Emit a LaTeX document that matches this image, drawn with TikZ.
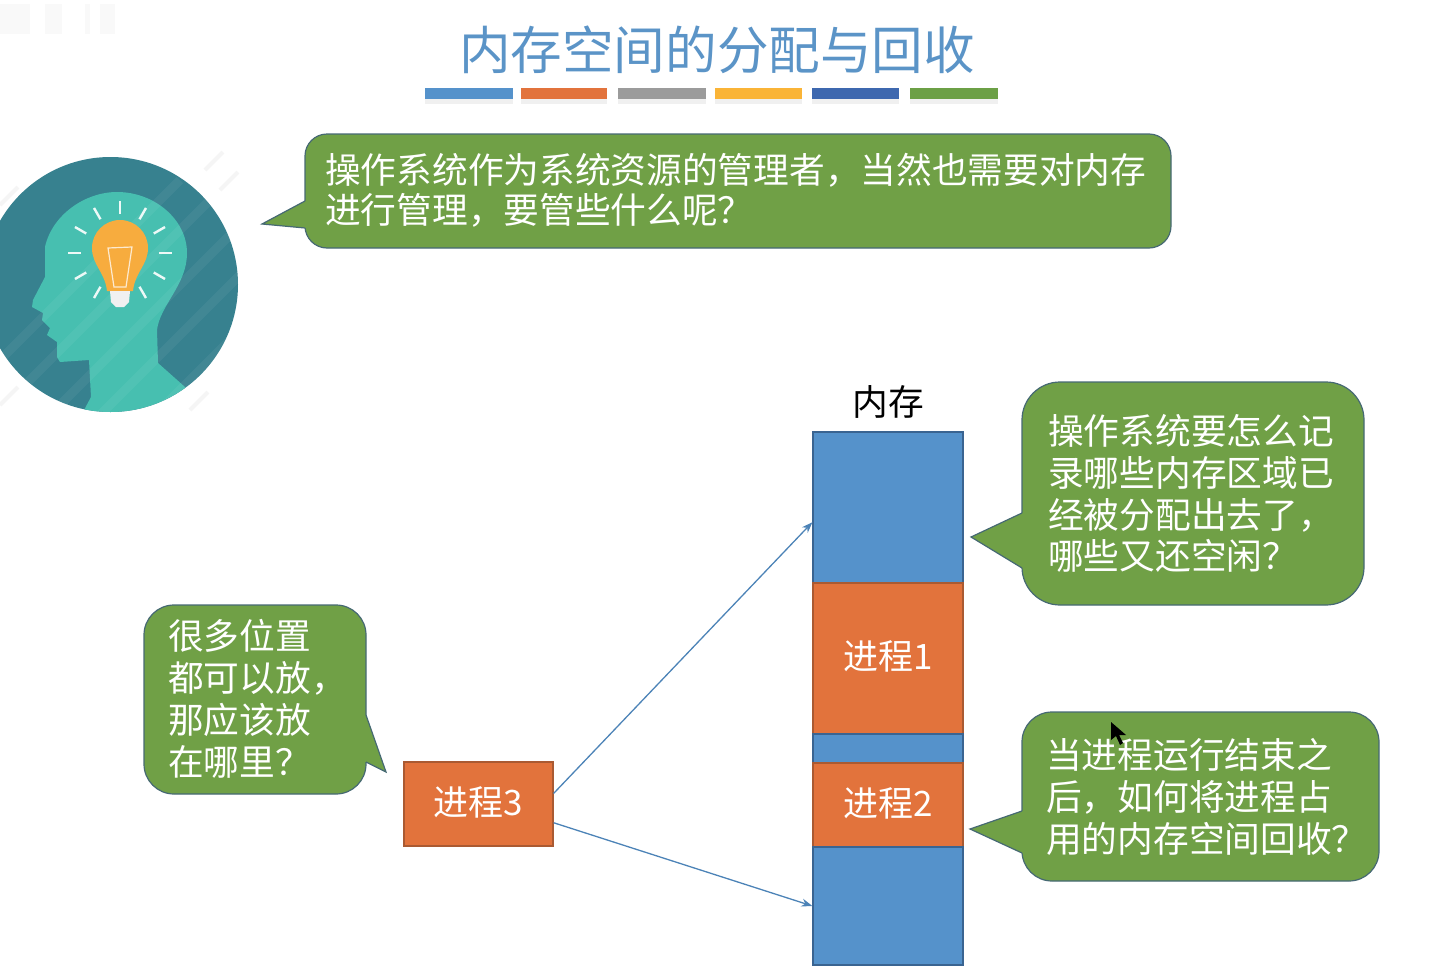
\documentclass[tikz,border=0pt]{standalone}
\usepackage{fontspec}
\setmainfont{Noto Sans CJK SC}
\usepackage{xcolor}
\usetikzlibrary{arrows.meta, positioning, calc}
\definecolor{cBlue}{RGB}{85,146,203}
\definecolor{cBlueEdge}{RGB}{58,100,145}
\definecolor{cOrange}{RGB}{226,115,60}
\definecolor{cOrangeEdge}{RGB}{170,90,50}
\definecolor{cGreen}{RGB}{112,160,70}
\definecolor{cGreenEdge}{RGB}{70,105,115}
\definecolor{cTitle}{RGB}{91,148,199}
\definecolor{cGray}{RGB}{155,155,155}
\definecolor{cAmber}{RGB}{250,180,55}
\definecolor{cNavy}{RGB}{62,104,175}
\definecolor{cLeaf}{RGB}{108,160,70}
\definecolor{cTeal}{RGB}{55,129,143}
\definecolor{cHead}{RGB}{71,191,176}
\definecolor{cBulb}{RGB}{247,172,62}
\tikzset{
	memfree/.style  ={rectangle, draw=cBlueEdge, line width=1.2pt, fill=cBlue, minimum width=150pt, inner sep=0pt},
	memproc/.style  ={rectangle, draw=cOrangeEdge, line width=1.2pt, fill=cOrange, minimum width=150pt, inner sep=0pt, text=white, text height=30pt, text depth=8pt, font=\fontsize{35}{42}\selectfont},
	bubble/.style   ={rectangle, draw=cGreenEdge, line width=1.2pt, fill=cGreen, inner sep=0pt},
	tailfill/.style ={fill=cGreen},
	tailline/.style ={draw=cGreenEdge, line width=1.2pt, line join=miter},
	saytext/.style  ={anchor=west, align=left, inner sep=0pt, text=white},
	sig/.style      ={-{Stealth[length=11pt, width=8pt]}, line width=1.3pt, draw=cBlue!90!black},
	ray/.style      ={white!90!cHead, line width=2.4pt},
}
\begin{document}
\begin{tikzpicture}[x=1pt, y=-1pt, font=\fontsize{35.7}{42}\selectfont]
	\useasboundingbox (0,0) rectangle (1433,972);
	% faint mark top left
	\foreach \xa/\xb in {0/30, 45/62, 85/90, 100/115} {
		\fill[gray!5] (\xa,4) rectangle (\xb,34);
	}
	% title
	\node[text=cTitle, font=\fontsize{51.6}{60}\selectfont, inner sep=0pt] (title) at (717,50) {内存空间的分配与回收};
	\foreach \xa/\xb/\col in {425/513/cBlue, 521/607/cOrange, 618/706/cGray, 715/802/cAmber, 812/899/cNavy, 910/998/cLeaf} {
		\fill[gray!12] (\xa,94) rectangle (\xb,104);
		\fill[\col] (\xa,88) rectangle (\xb,99);
	}
	% head with bulb
	\foreach \xa/\ya in {0/205, 205/170, 220/190, 0/405, 190/410} {
		\draw[gray!8, line width=4pt] (\xa,\ya) -- ++(18,-18);
	}
	\fill[cTeal] (110.5,284.5) circle (127.5);
	\begin{scope}
		\clip (110.5,284.5) circle (127.5);
		\fill[cHead] (83,412) -- (91,397) -- (89,360) -- (60,362) -- (57,357) -- (57,342) -- (47,335) -- (50,328) -- (42,320) -- (43,313) -- (32,307) -- (33,300) -- (45,277) -- (45,247)
			.. controls (52,215) and (85,192) .. (117,192) .. controls (155,192) and (187,220) .. (187,253)
			.. controls (187,285) and (160,305) .. (157,330) -- (158,363) -- (185,387) -- (200,430) -- (83,430) -- cycle;
		\foreach \xa in {-60,-10,45,95,150,205,260} {
			\draw[white, opacity=0.05, line width=9pt] (\xa,420) -- ++(240,-240);
		}
	\end{scope}
	\foreach \ang in {0,30,60,120,150,180,210,240,270,300,330} {
		\draw[ray] (120,253) ++(\ang:39) -- ++(\ang:13);
	}
	\fill[cBulb] (92,248) arc[start angle=180, end angle=360, radius=28] .. controls (148,265) and (135,272) .. (133,291) -- (107,291) .. controls (105,272) and (92,265) .. (92,248) -- cycle;
	\fill[white!88!gray] (110,291) -- (130,291) -- (129,302) -- (124,307) -- (116,307) -- (111,302) -- cycle;
	\draw[white!75!cBulb, line width=1.2pt] (108,248) -- (132,247) -- (126,287) -- (114,287) -- cycle;
	% top bubble
	\node[bubble, rounded corners=22pt, minimum width=866pt, minimum height=114pt] (boxTop) at (738,191) {};
	\fill[tailfill] (310,201) -- (305,201) -- (262,224) -- (305,228) -- (310,228) -- cycle;
	\draw[tailline] (305,201) -- (262,224) -- (305,228);
	\node[saytext] (sayTop) at (325,190) {操作系统作为系统资源的管理者，当然也需要对内存\\[-2pt]进行管理，要管些什么呢？};
	% memory column
	\node[inner sep=0pt] (memlabel) at (888,402) {内存};
	\node[memfree, minimum height=151pt] (memA) at (888,507.5) {};
	\node[memproc, minimum height=151pt] (memB) at (888,658.5) {进程1};
	\node[memfree, minimum height=29pt] (memC) at (888,748.5) {};
	\node[memproc, minimum height=84pt] (memD) at (888,805) {进程2};
	\node[memfree, minimum height=118pt] (memE) at (888,906) {};
	% process waiting
	\node[memproc, minimum width=149pt, minimum height=84pt] (procC) at (478.5,804) {进程3};
	\draw[sig] (procC.8) -- (memA.191);
	\draw[sig] (procC.-14) -- (memE.west);
	% side bubbles
	\node[bubble, rounded corners=38pt, minimum width=342pt, minimum height=223pt] (boxMem) at (1193,493.5) {};
	\fill[tailfill] (1028,513) -- (1022,513) -- (971,537) -- (1022,568) -- (1028,568) -- cycle;
	\draw[tailline] (1022,513) -- (971,537) -- (1022,568);
	\node[saytext] (sayMem) at (1048,493) {操作系统要怎么记\\录哪些内存区域已\\经被分配出去了，\\[-1pt]哪些又还空闲？};
	\node[bubble, rounded corners=30pt, minimum width=357pt, minimum height=169pt] (boxFree) at (1200.5,796.5) {};
	\fill[tailfill] (1028,811) -- (1022,811) -- (970,829) -- (1022,853) -- (1028,853) -- cycle;
	\draw[tailline] (1022,811) -- (970,829) -- (1022,853);
	\node[saytext] (sayFree) at (1046,797) {当进程运行结束之\\后，如何将进程占\\用的内存空间回收？};
	\node[bubble, rounded corners=30pt, minimum width=222pt, minimum height=189pt] (boxWhere) at (255,699.5) {};
	\fill[tailfill] (360,715) -- (366,715) -- (386,772) -- (366,762) -- (360,762) -- cycle;
	\draw[tailline] (366,715) -- (386,772) -- (366,762);
	\node[saytext] (sayWhere) at (168,699) {很多位置\\都可以放，\\那应该放\\在哪里？};
	% mouse pointer
	\fill[black] (1111,722) -- (1111,740) -- (1116,736) -- (1120,745) -- (1123,743) -- (1119,735) -- (1126,735) -- cycle;
\end{tikzpicture}
\end{document}
